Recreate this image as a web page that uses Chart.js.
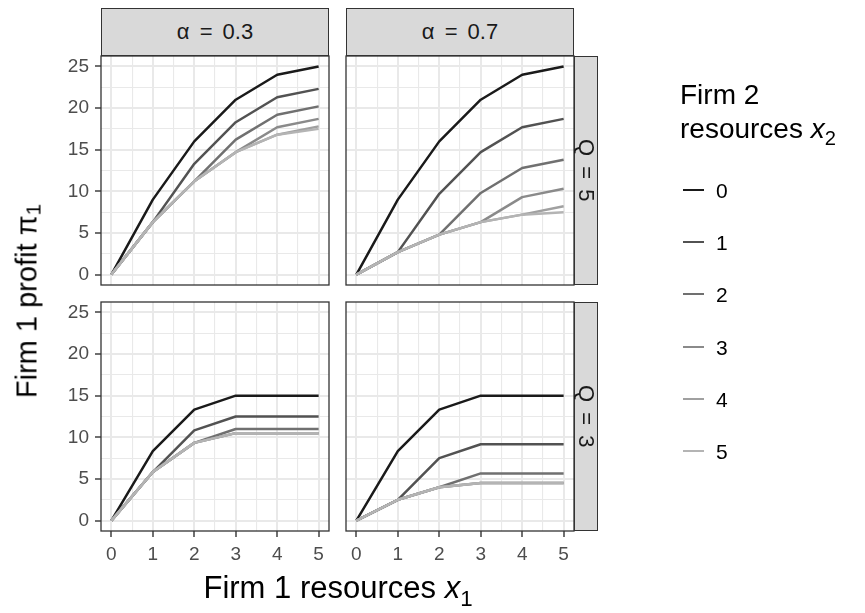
<!DOCTYPE html>
<html>
<head>
<meta charset="utf-8">
<title>Firm 1 profit by resources</title>
<script src="https://cdn.jsdelivr.net/npm/chart.js@4.4.1/dist/chart.umd.min.js"></script>
<style>
  html, body { margin: 0; padding: 0; background: #ffffff; }
  #fig { position: relative; width: 865px; height: 613px; overflow: hidden;
         font-family: "Liberation Sans", Arial, sans-serif; background: #ffffff; }
  #fig canvas { position: absolute; left: 0; top: 0; }
  .strip { position: absolute; box-sizing: border-box; background: #d9d9d9;
           border: 1.3px solid #333333; color: #1a1a1a; font-size: 22px; word-spacing: 4px;
           display: flex; align-items: center; justify-content: center; white-space: nowrap; }
  .strip.v { writing-mode: vertical-rl; }
  .title { position: absolute; color: #000000; white-space: nowrap; }
  .title sub { font-size: 72%; vertical-align: -0.35em; line-height: 0; }
  .ytitle { writing-mode: vertical-rl; transform: translate(-50%, -50%) rotate(180deg); }
  .xtitle { transform: translateX(-50%); }
  .key { position: absolute; height: 2px; }
  .keylab { position: absolute; color: #000000; font-size: 21px; line-height: 21px; }
</style>
</head>
<body>
<div id="fig"></div>
<script>
// ---- values ----
const X1 = [0, 1, 2, 3, 4, 5];                       // firm 1 resources
const X2_LEVELS = ['0', '1', '2', '3', '4', '5'];    // firm 2 resources (one line each)
const ALPHA_LABELS = ['α = 0.3', 'α = 0.7'];
const Q_LABELS = ['Q = 5', 'Q = 3'];
const X_TICKS = [0, 1, 2, 3, 4, 5];
const X_MINOR = [0.5, 1.5, 2.5, 3.5, 4.5];
const Y_TICKS = [0, 5, 10, 15, 20, 25];
const Y_MINOR = [2.5, 7.5, 12.5, 17.5, 22.5];

// profit of firm 1, one row per firm 2 resource level
const PROFIT_A03_Q5 = [
  [0, 9.0, 16.0, 21.0, 24.0, 25.0],
  [0, 6.3, 13.3, 18.3, 21.3, 22.3],
  [0, 6.3, 11.2, 16.2, 19.2, 20.2],
  [0, 6.3, 11.2, 14.7, 17.7, 18.7],
  [0, 6.3, 11.2, 14.7, 16.8, 17.8],
  [0, 6.3, 11.2, 14.7, 16.8, 17.5]
];
const PROFIT_A07_Q5 = [
  [0, 9.0, 16.0, 21.0, 24.0, 25.0],
  [0, 2.7,  9.7, 14.7, 17.7, 18.7],
  [0, 2.7,  4.8,  9.8, 12.8, 13.8],
  [0, 2.7,  4.8,  6.3,  9.3, 10.3],
  [0, 2.7,  4.8,  6.3,  7.2,  8.2],
  [0, 2.7,  4.8,  6.3,  7.2,  7.5]
];
const PROFIT_A03_Q3 = [
  [0, 8.33, 13.33, 15.0, 15.0, 15.0],
  [0, 5.83, 10.83, 12.5, 12.5, 12.5],
  [0, 5.83,  9.33, 11.0, 11.0, 11.0],
  [0, 5.83,  9.33, 10.5, 10.5, 10.5],
  [0, 5.83,  9.33, 10.5, 10.5, 10.5],
  [0, 5.83,  9.33, 10.5, 10.5, 10.5]
];
const PROFIT_A07_Q3 = [
  [0, 8.33, 13.33, 15.0, 15.0, 15.0],
  [0, 2.5,   7.5,  9.17, 9.17, 9.17],
  [0, 2.5,   4.0,  5.67, 5.67, 5.67],
  [0, 2.5,   4.0,  4.5,  4.5,  4.5],
  [0, 2.5,   4.0,  4.5,  4.5,  4.5],
  [0, 2.5,   4.0,  4.5,  4.5,  4.5]
];

const SERIES_COLORS = ['#1a1a1a', '#525252', '#707070', '#8a8a8a', '#a0a0a0', '#b4b4b4'];

// ---- layout ----
const W = 865, H = 613;
const COL = [{ left: 101, right: 329 }, { left: 346, right: 574 }];
const ROW = [{ top: 56, bottom: 285 }, { top: 302, bottom: 531 }];
const STRIP_TOP = { top: 8, height: 48 };
const STRIP_RIGHT = { left: 574, width: 24 };
const X_AXIS_H = 40;
const TICK_FONT = { family: '"Liberation Sans", Arial, sans-serif', size: 19 };
const TICK_COLOR = '#4d4d4d';
const GRID_COLOR = '#e9e9e9';

const PANELS = [
  { values: PROFIT_A03_Q5, col: 0, row: 0 },
  { values: PROFIT_A07_Q5, col: 1, row: 0 },
  { values: PROFIT_A03_Q3, col: 0, row: 1 },
  { values: PROFIT_A07_Q3, col: 1, row: 1 }
];

const fig = document.getElementById('fig');

// panel frame drawn round the plotting area
const panelFrame = {
  id: 'panelFrame',
  afterDraw(chart) {
    const a = chart.chartArea, c = chart.ctx;
    c.save();
    c.strokeStyle = '#333333';
    c.lineWidth = 1.3;
    c.strokeRect(a.left, a.top, a.right - a.left, a.bottom - a.top);
    c.restore();
  }
};

function gridOptions(majors, showTicks) {
  return {
    color: GRID_COLOR,
    lineWidth: ctx => majors.includes(ctx.tick && ctx.tick.value) ? 2 : 1.1,
    drawTicks: showTicks,
    tickLength: 6,
    tickWidth: 1.4,
    tickColor: ctx => majors.includes(ctx.tick && ctx.tick.value) ? '#333333' : 'rgba(0,0,0,0)'
  };
}

function buildPanel(p) {
  const canvas = document.createElement('canvas');
  canvas.width = W; canvas.height = H;
  canvas.style.width = W + 'px'; canvas.style.height = H + 'px';
  fig.appendChild(canvas);

  const showY = p.col === 0;
  const showX = p.row === 1;
  const box = { left: COL[p.col].left, right: COL[p.col].right, top: ROW[p.row].top, bottom: ROW[p.row].bottom };
  const yW = showY ? box.left : 0;
  const xH = showX ? X_AXIS_H : 0;

  new Chart(canvas, {
    type: 'line',
    data: {
      datasets: p.values.map((row, i) => ({
        label: X2_LEVELS[i],
        data: X1.map((x, j) => ({ x: x, y: row[j] })),
        borderColor: SERIES_COLORS[i],
        borderWidth: 2.5,
        borderJoinStyle: 'round',
        borderCapStyle: 'butt',
        pointRadius: 0,
        tension: 0,
        fill: false,
        order: p.values.length - 1 - i
      }))
    },
    options: {
      responsive: false,
      animation: false,
      devicePixelRatio: 1,
      events: [],
      layout: { padding: { left: box.left - yW, top: box.top, right: W - box.right, bottom: H - box.bottom - xH } },
      plugins: { legend: { display: false }, tooltip: { enabled: false } },
      scales: {
        x: {
          type: 'linear', min: -0.25, max: 5.25,
          afterBuildTicks: s => { s.ticks = X_TICKS.concat(X_MINOR).sort((a, b) => a - b).map(v => ({ value: v })); },
          afterFit: s => { s.height = xH; },
          border: { display: false },
          grid: gridOptions(X_TICKS, showX),
          ticks: {
            display: showX, autoSkip: false, maxRotation: 0, minRotation: 0, padding: 6,
            font: TICK_FONT, color: TICK_COLOR,
            callback: v => X_TICKS.includes(v) ? String(v) : ''
          }
        },
        y: {
          type: 'linear', min: -1.25, max: 26.25,
          afterBuildTicks: s => { s.ticks = Y_TICKS.concat(Y_MINOR).sort((a, b) => a - b).map(v => ({ value: v })); },
          afterFit: s => { s.width = yW; },
          border: { display: false },
          grid: gridOptions(Y_TICKS, showY),
          ticks: {
            display: showY, autoSkip: false, padding: 6,
            font: TICK_FONT, color: TICK_COLOR,
            callback: v => Y_TICKS.includes(v) ? String(v) : ''
          }
        }
      }
    },
    plugins: [panelFrame]
  });
}

PANELS.forEach(buildPanel);

// facet strips
ALPHA_LABELS.forEach((txt, c) => {
  const d = document.createElement('div');
  d.className = 'strip';
  d.style.left = COL[c].left + 'px';
  d.style.width = (COL[c].right - COL[c].left) + 'px';
  d.style.top = STRIP_TOP.top + 'px';
  d.style.height = STRIP_TOP.height + 'px';
  d.textContent = txt;
  fig.appendChild(d);
});
Q_LABELS.forEach((txt, r) => {
  const d = document.createElement('div');
  d.className = 'strip v';
  d.style.left = STRIP_RIGHT.left + 'px';
  d.style.width = STRIP_RIGHT.width + 'px';
  d.style.top = ROW[r].top + 'px';
  d.style.height = (ROW[r].bottom - ROW[r].top) + 'px';
  d.textContent = txt;
  fig.appendChild(d);
});

// axis titles
const yt = document.createElement('div');
yt.className = 'title ytitle';
yt.style.left = '27px'; yt.style.top = '301px'; yt.style.fontSize = '29px';
yt.innerHTML = 'Firm 1 profit π<sub>1</sub>';
fig.appendChild(yt);

const xt = document.createElement('div');
xt.className = 'title xtitle';
xt.style.left = '338px'; xt.style.top = '570px'; xt.style.fontSize = '31px';
xt.innerHTML = 'Firm 1 resources <i>x</i><sub>1</sub>';
fig.appendChild(xt);

// legend
const lt = document.createElement('div');
lt.className = 'title';
lt.style.left = '680px'; lt.style.top = '78px'; lt.style.fontSize = '28px'; lt.style.lineHeight = '34px';
lt.innerHTML = 'Firm 2<br>resources <i>x</i><sub>2</sub>';
fig.appendChild(lt);

X2_LEVELS.forEach((lab, i) => {
  const y = Math.round(190 + i * 52.2);
  const k = document.createElement('div');
  k.className = 'key';
  k.style.left = '683px'; k.style.width = '21px'; k.style.top = (y - 1) + 'px';
  k.style.background = SERIES_COLORS[i];
  fig.appendChild(k);
  const t = document.createElement('div');
  t.className = 'keylab';
  t.style.left = '716px'; t.style.top = (y - 10) + 'px';
  t.textContent = lab;
  fig.appendChild(t);
});
</script>
</body>
</html>
